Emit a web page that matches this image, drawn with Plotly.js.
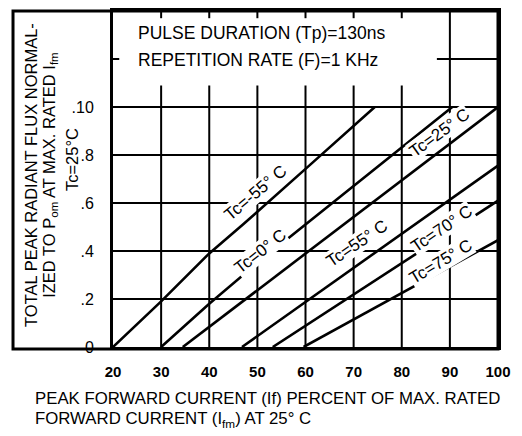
<!DOCTYPE html>
<html>
<head>
<meta charset="utf-8">
<script src="https://cdn.plot.ly/plotly-3.0.1.min.js"></script>
<style>html,body{margin:0;padding:0;background:#fff;}#chart{width:522px;height:436px;}</style>
</head>
<body>
<div id="chart"></div>
<script>
// ---- data ----
const xTickVals = [20, 30, 40, 50, 60, 70, 80, 90, 100];
const xTickText = ['20', '30', '40', '50', '60', '70', '80', '90', '100'];
const yTickVals = [0, 0.2, 0.4, 0.6, 0.8, 1.0];
const yTickText = ['0', '.2', '.4', '.6', '.8', '.10'];

const seriesNames = ['Tc=-55° C', 'Tc=0° C', 'Tc=25° C', 'Tc=55° C', 'Tc=70° C', 'Tc=75° C'];
const xM55 = [20, 30, 40, 47, 61, 74.4];
const yM55 = [0, 0.19, 0.39, 0.51, 0.76, 1.0];
const x0 = [30, 40, 50, 90.5];
const y0 = [0, 0.18, 0.35, 1.0];
const x25 = [34.5, 100];
const y25 = [0, 1.0];
const x55 = [46.8, 100];
const y55 = [0, 0.756];
const x70 = [53.2, 100];
const y70 = [0, 0.61];
const x75 = [59.6, 100];
const y75 = [0, 0.445];

// label positions (layout) for each curve
const labelX = [49.7, 50.6, 88.0, 70.7, 88.4, 88.2];
const labelY = [0.642, 0.40, 0.892, 0.433, 0.493, 0.356];
const labelAngle = [-40, -38, -36, -34, -34, -31];

const FONT = 'Liberation Sans, Arial, sans-serif';
const xs = [xM55, x0, x25, x55, x70, x75];
const ys = [yM55, y0, y25, y55, y70, y75];

const traces = xs.map((x, i) => ({
  type: 'scatter', mode: 'lines', x: x, y: ys[i], name: seriesNames[i],
  line: {color: '#000', width: 2.6}, hoverinfo: 'skip'
}));

// grid drawn as shapes (gridlines are interrupted in the upper text area)
const shapes = [];
const gl = {color: '#000', width: 2};
xTickVals.slice(1, -1).forEach(v => {
  if (v === 90) {
    shapes.push({type: 'line', xref: 'x', yref: 'y', x0: v, x1: v, y0: 0, y1: 1.4, line: gl, layer: 'below'});
  } else {
    shapes.push({type: 'line', xref: 'x', yref: 'y', x0: v, x1: v, y0: 0, y1: 1.09, line: gl, layer: 'below'});
    shapes.push({type: 'line', xref: 'x', yref: 'y', x0: v, x1: v, y0: 1.37, y1: 1.4, line: gl, layer: 'below'});
  }
});
yTickVals.slice(1).forEach(v => {
  shapes.push({type: 'line', xref: 'x', yref: 'y', x0: 20, x1: 100, y0: v, y1: v, line: gl, layer: 'below'});
});
shapes.push({type: 'line', xref: 'x', yref: 'y', x0: 87.3, x1: 100, y0: 1.2, y1: 1.2, line: gl, layer: 'below'});
shapes.push({type: 'line', xref: 'x', yref: 'y', x0: 20, x1: 21.3, y0: 1.2, y1: 1.2, line: gl, layer: 'below'});
// outer frame around y title area
shapes.push({type: 'rect', xref: 'paper', yref: 'paper', x0: -0.2597, x1: 1, y0: -0.006, y1: 1.0,
  line: {color: '#000', width: 3}, layer: 'above'});

const annotations = [];
seriesNames.forEach((n, i) => {
  annotations.push({xref: 'x', yref: 'y', x: labelX[i], y: labelY[i], text: n, showarrow: false,
    xanchor: 'center', yanchor: 'middle',
    textangle: labelAngle[i], font: {family: FONT, size: 17, color: '#000'},
    bgcolor: 'rgba(255,255,255,1)', borderpad: 0});
});
function paperText(text, x, y, size, angle, xa) {
  annotations.push({xref: 'paper', yref: 'paper', x: x, y: y, text: text, showarrow: false,
    textangle: angle, xanchor: xa, yanchor: 'middle', align: 'left',
    font: {family: FONT, size: size, color: '#000'}});
}
// y title (three vertical lines)
paperText('TOTAL PEAK RADIANT FLUX NORMAL-', -0.213, 0.512, 16.5, -90, 'center');
paperText('IZED TO P<sub>om</sub> AT MAX. RATED I<sub>fm</sub>', -0.164, 0.512, 16.5, -90, 'center');
paperText('Tc=25°C', -0.106, 0.557, 16.5, -90, 'center');
// condition text box
paperText('PULSE DURATION (Tp)=130ns', 0.06, 0.935, 17.5, 0, 'left');
paperText('REPETITION RATE (F)=1 KHz', 0.06, 0.854, 17.5, 0, 'left');
// x title (left aligned, two lines)
paperText('PEAK FORWARD CURRENT (If) PERCENT OF MAX. RATED', -0.208, -0.152, 16.8, 0, 'left');
paperText('FORWARD CURRENT (I<sub>fm</sub>) AT 25° C', -0.208, -0.217, 16.8, 0, 'left');

const layout = {
  width: 522, height: 436,
  margin: {l: 113, r: 24, t: 11, b: 89, pad: 0},
  paper_bgcolor: '#fff', plot_bgcolor: '#fff',
  showlegend: false,
  font: {family: FONT, color: '#000'},
  xaxis: {range: [20, 100], tickvals: xTickVals, ticktext: xTickText, showgrid: false, zeroline: false,
    showline: true, mirror: true, linecolor: '#000', linewidth: 3, ticks: '',
    ticklabelstandoff: 9, tickfont: {family: FONT, size: 15, color: '#000', weight: 'bold'}},
  yaxis: {range: [0, 1.4], tickvals: yTickVals, ticktext: yTickText, showgrid: false, zeroline: false,
    showline: true, mirror: true, linecolor: '#000', linewidth: 3, ticks: '',
    ticklabelstandoff: 13, tickfont: {family: FONT, size: 16, color: '#000'}},
  shapes: shapes,
  annotations: annotations
};

Plotly.newPlot('chart', traces, layout, {displayModeBar: false, staticPlot: true});
</script>
</body>
</html>
